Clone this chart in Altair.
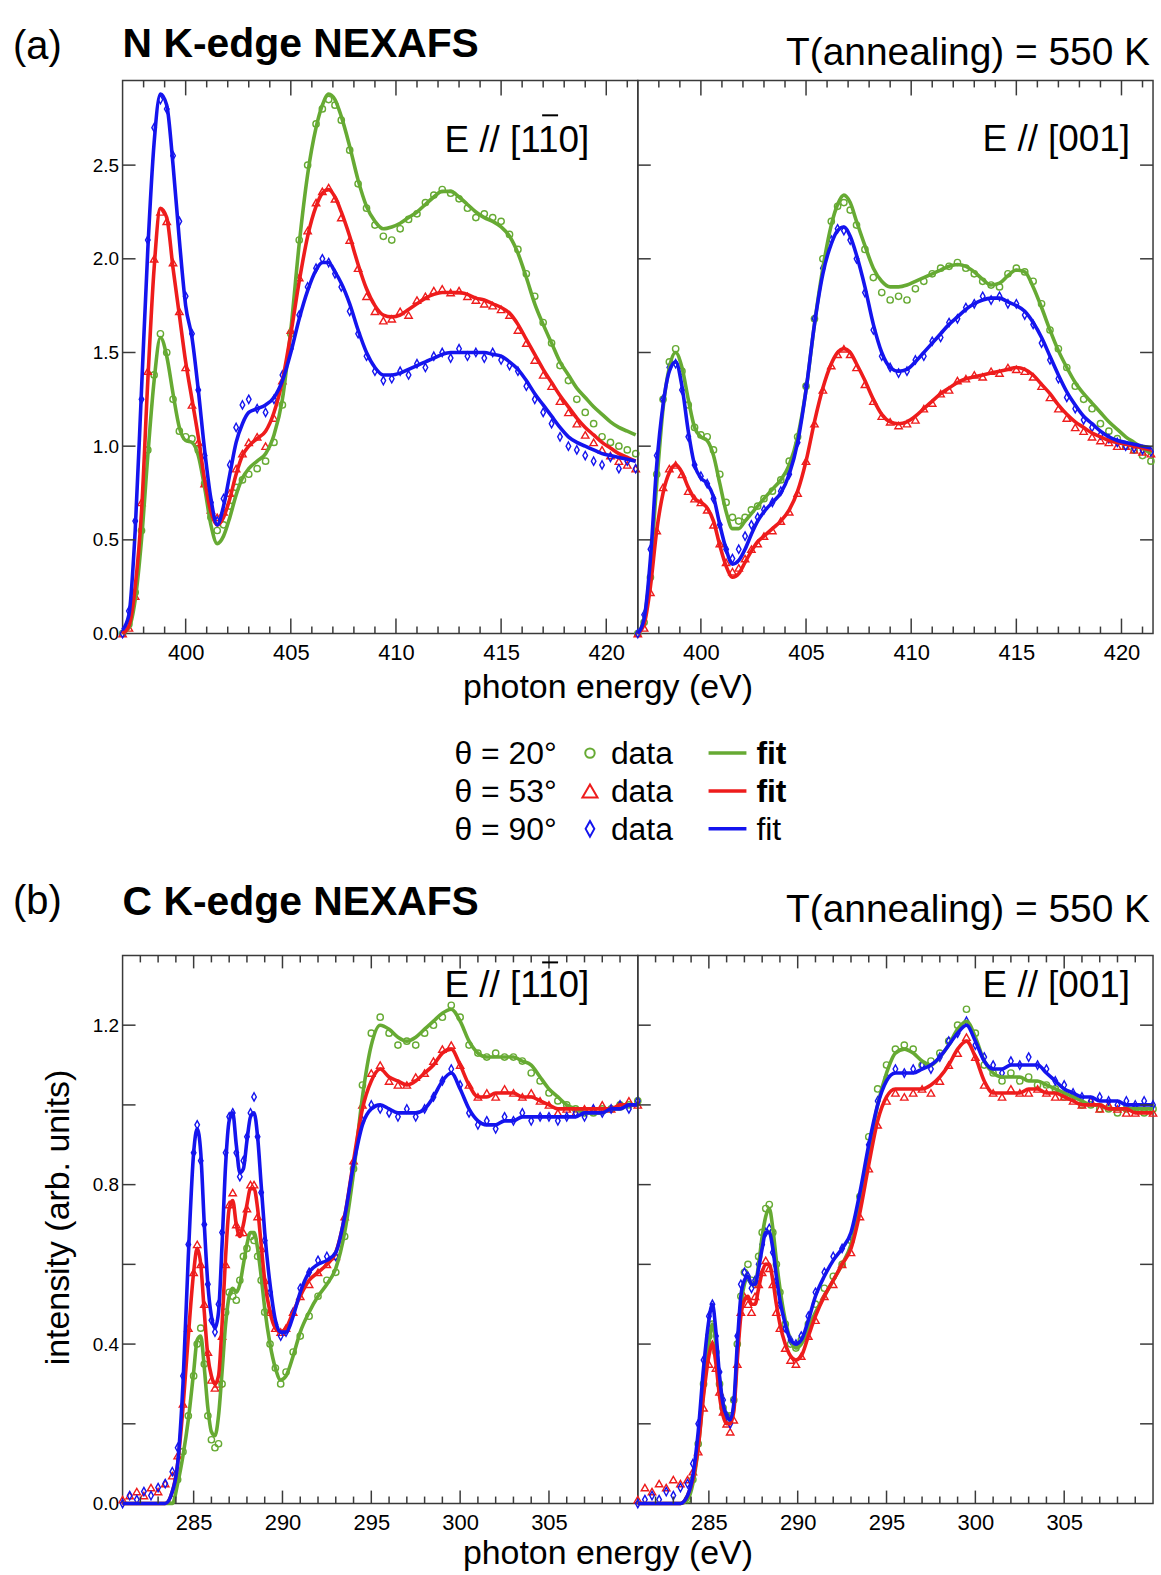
import altair as alt
import pandas as pd

FONT = "Liberation Sans"
FRAME = "#3a3a3a"
SERIES = ["20", "53", "90"]
COLORS = ["#66aa33", "#ee1c1c", "#1414ee"]
DIAMOND = "M0,-1L0.55,0L0,1L-0.55,0Z"
SHAPES = ["circle", "triangle-up", DIAMOND]

# ---------------- N K-edge energy grid ----------------
E_N = [397.0, 397.3, 397.6, 397.9, 398.2, 398.5, 398.8, 399.1, 399.4, 399.7,
       400.0, 400.3, 400.6, 400.9, 401.2, 401.5, 401.8, 402.1, 402.4, 402.7,
       403.0, 403.4, 403.8, 404.2, 404.6, 405.0, 405.4, 405.8, 406.2, 406.5,
       406.8, 407.1, 407.4, 407.8, 408.2, 408.6, 409.0, 409.4, 409.8, 410.2,
       410.6, 411.0, 411.4, 411.8, 412.2, 412.6, 413.0, 413.4, 413.8, 414.2,
       414.6, 415.0, 415.4, 415.8, 416.2, 416.6, 417.0, 417.4, 417.8, 418.2,
       418.6, 419.0, 419.4, 419.8, 420.2, 420.6, 421.0, 421.4]

# N K-edge, E // [1-10]
na_fit_20 = [0.00, 0.03, 0.18, 0.50, 0.95, 1.35, 1.58, 1.48, 1.28, 1.10,
             1.03, 1.02, 0.95, 0.78, 0.58, 0.48, 0.52, 0.62, 0.74, 0.83,
             0.88, 0.92, 0.96, 1.06, 1.25, 1.62, 2.08, 2.45, 2.70, 2.82,
             2.88, 2.85, 2.76, 2.60, 2.42, 2.28, 2.20, 2.16, 2.17, 2.19,
             2.22, 2.25, 2.29, 2.33, 2.36, 2.36, 2.33, 2.29, 2.25, 2.22,
             2.20, 2.17, 2.12, 2.03, 1.90, 1.76, 1.65, 1.55, 1.45, 1.38,
             1.31, 1.26, 1.21, 1.17, 1.13, 1.10, 1.08, 1.06]
na_dat_20 = [0.00, 0.05, 0.22, 0.55, 0.98, 1.38, 1.60, 1.50, 1.25, 1.08,
             1.05, 1.04, 0.98, 0.80, 0.62, 0.55, 0.58, 0.68, 0.78, 0.82,
             0.85, 0.88, 0.92, 1.02, 1.22, 1.60, 2.10, 2.50, 2.72, 2.80,
             2.85, 2.82, 2.74, 2.58, 2.40, 2.27, 2.18, 2.12, 2.10, 2.16,
             2.21, 2.24, 2.30, 2.34, 2.37, 2.35, 2.32, 2.27, 2.22, 2.24,
             2.22, 2.20, 2.13, 2.05, 1.92, 1.80, 1.66, 1.55, 1.43, 1.35,
             1.25, 1.18, 1.12, 1.05, 1.02, 1.00, 0.98, 0.96]
na_fit_53 = [0.00, 0.04, 0.25, 0.65, 1.35, 1.95, 2.27, 2.22, 1.95, 1.70,
             1.45, 1.25, 1.05, 0.82, 0.65, 0.58, 0.62, 0.72, 0.85, 0.95,
             1.00, 1.04, 1.08, 1.18, 1.35, 1.60, 1.88, 2.12, 2.28, 2.35,
             2.37, 2.33, 2.25, 2.12, 1.97, 1.84, 1.75, 1.70, 1.69, 1.70,
             1.73, 1.76, 1.79, 1.81, 1.82, 1.82, 1.82, 1.81, 1.79, 1.78,
             1.76, 1.74, 1.71, 1.65, 1.57, 1.49, 1.41, 1.34, 1.27, 1.21,
             1.15, 1.10, 1.06, 1.02, 0.99, 0.96, 0.94, 0.92]
na_dat_53 = [0.00, 0.03, 0.20, 0.70, 1.40, 2.00, 2.25, 2.20, 1.98, 1.72,
             1.42, 1.22, 1.02, 0.80, 0.66, 0.62, 0.65, 0.75, 0.88, 0.96,
             1.02, 1.05, 1.00, 1.15, 1.35, 1.62, 1.90, 2.15, 2.30, 2.36,
             2.38, 2.32, 2.22, 2.10, 1.95, 1.80, 1.72, 1.67, 1.68, 1.72,
             1.70, 1.78, 1.80, 1.83, 1.84, 1.82, 1.83, 1.80, 1.78, 1.76,
             1.75, 1.73, 1.70, 1.62, 1.55, 1.46, 1.38, 1.32, 1.24, 1.18,
             1.12, 1.06, 1.02, 0.98, 0.95, 0.92, 0.90, 0.88]
na_fit_90 = [0.02, 0.10, 0.55, 1.30, 2.05, 2.62, 2.88, 2.82, 2.50, 2.10,
             1.75, 1.58, 1.30, 0.98, 0.72, 0.58, 0.68, 0.85, 1.02, 1.12,
             1.18, 1.20, 1.22, 1.26, 1.35, 1.50, 1.68, 1.83, 1.94, 1.98,
             1.98, 1.93, 1.87, 1.76, 1.62, 1.50, 1.42, 1.38, 1.38, 1.39,
             1.41, 1.43, 1.45, 1.47, 1.49, 1.50, 1.50, 1.50, 1.50, 1.50,
             1.49, 1.48, 1.45, 1.41, 1.35, 1.28, 1.22, 1.16, 1.10, 1.05,
             1.02, 1.00, 0.98, 0.96, 0.95, 0.94, 0.93, 0.92]
na_dat_90 = [0.00, 0.12, 0.60, 1.25, 2.10, 2.70, 2.85, 2.80, 2.55, 2.20,
             1.80, 1.60, 1.30, 0.95, 0.70, 0.60, 0.72, 0.90, 1.10, 1.22,
             1.25, 1.20, 1.18, 1.25, 1.38, 1.52, 1.70, 1.85, 1.95, 2.00,
             1.98, 1.92, 1.85, 1.72, 1.60, 1.48, 1.40, 1.35, 1.36, 1.40,
             1.38, 1.44, 1.42, 1.48, 1.50, 1.47, 1.52, 1.48, 1.50, 1.47,
             1.50, 1.46, 1.43, 1.40, 1.32, 1.25, 1.18, 1.12, 1.05, 1.00,
             0.98, 0.95, 0.92, 0.90, 0.94, 0.88, 0.92, 0.88]

# N K-edge, E // [001]
nb_fit_20 = [0.00, 0.08, 0.35, 0.80, 1.20, 1.42, 1.50, 1.42, 1.25, 1.10,
             1.05, 1.03, 0.95, 0.80, 0.65, 0.56, 0.56, 0.60, 0.64, 0.68,
             0.72, 0.77, 0.82, 0.90, 1.05, 1.30, 1.65, 1.95, 2.18, 2.29,
             2.34, 2.30, 2.20, 2.07, 1.95, 1.88, 1.85, 1.85, 1.86, 1.88,
             1.90, 1.92, 1.94, 1.96, 1.97, 1.96, 1.93, 1.89, 1.86, 1.87,
             1.91, 1.94, 1.93, 1.85, 1.74, 1.62, 1.51, 1.42, 1.34, 1.28,
             1.23, 1.18, 1.13, 1.09, 1.05, 1.02, 0.99, 0.96]
nb_dat_20 = [0.00, 0.06, 0.30, 0.85, 1.25, 1.45, 1.52, 1.40, 1.22, 1.10,
             1.06, 1.05, 0.98, 0.85, 0.70, 0.62, 0.60, 0.62, 0.66, 0.68,
             0.72, 0.76, 0.82, 0.92, 1.05, 1.32, 1.68, 2.00, 2.20, 2.28,
             2.30, 2.26, 2.18, 2.05, 1.90, 1.82, 1.78, 1.80, 1.78, 1.84,
             1.88, 1.92, 1.95, 1.96, 1.98, 1.95, 1.92, 1.88, 1.86, 1.85,
             1.92, 1.95, 1.93, 1.88, 1.76, 1.62, 1.52, 1.42, 1.32, 1.25,
             1.20, 1.12, 1.08, 1.04, 1.00, 0.98, 0.95, 0.92]
nb_fit_53 = [0.00, 0.05, 0.25, 0.55, 0.75, 0.86, 0.90, 0.86, 0.78, 0.72,
             0.70, 0.67, 0.60, 0.47, 0.36, 0.30, 0.32, 0.38, 0.44, 0.49,
             0.52, 0.56, 0.60, 0.66, 0.76, 0.92, 1.13, 1.31, 1.44, 1.50,
             1.52, 1.50, 1.44, 1.35, 1.25, 1.17, 1.13, 1.12, 1.13, 1.16,
             1.20, 1.24, 1.28, 1.31, 1.34, 1.36, 1.37, 1.38, 1.39, 1.40,
             1.41, 1.42, 1.41, 1.38, 1.33, 1.28, 1.22, 1.17, 1.13, 1.10,
             1.07, 1.05, 1.03, 1.02, 1.01, 1.00, 0.99, 0.98]
nb_dat_53 = [0.00, 0.03, 0.22, 0.55, 0.78, 0.88, 0.90, 0.85, 0.76, 0.72,
             0.70, 0.66, 0.58, 0.48, 0.38, 0.33, 0.35, 0.40, 0.45, 0.48,
             0.52, 0.55, 0.60, 0.65, 0.75, 0.92, 1.12, 1.30, 1.43, 1.49,
             1.52, 1.49, 1.42, 1.33, 1.24, 1.16, 1.13, 1.11, 1.12, 1.14,
             1.20, 1.23, 1.28, 1.30, 1.35, 1.36, 1.38, 1.37, 1.40, 1.39,
             1.42, 1.41, 1.40, 1.37, 1.32, 1.26, 1.20, 1.15, 1.10, 1.08,
             1.05, 1.03, 1.02, 1.00, 1.00, 0.98, 0.97, 0.96]
nb_fit_90 = [0.00, 0.08, 0.40, 0.90, 1.22, 1.40, 1.45, 1.32, 1.08, 0.90,
             0.83, 0.80, 0.73, 0.58, 0.45, 0.37, 0.39, 0.45, 0.53, 0.60,
             0.65, 0.70, 0.75, 0.85, 1.02, 1.30, 1.65, 1.92, 2.08, 2.15,
             2.17, 2.12, 2.02, 1.85, 1.65, 1.50, 1.42, 1.40, 1.41, 1.45,
             1.50, 1.55, 1.60, 1.65, 1.69, 1.73, 1.76, 1.78, 1.79, 1.79,
             1.77, 1.75, 1.72, 1.66, 1.58, 1.48, 1.38, 1.29, 1.22, 1.16,
             1.12, 1.08, 1.05, 1.03, 1.02, 1.01, 1.00, 0.99]
nb_dat_90 = [0.00, 0.10, 0.45, 0.95, 1.25, 1.42, 1.44, 1.30, 1.05, 0.90,
             0.84, 0.80, 0.72, 0.58, 0.45, 0.40, 0.45, 0.52, 0.58, 0.62,
             0.66, 0.70, 0.76, 0.85, 1.02, 1.32, 1.68, 1.95, 2.10, 2.16,
             2.15, 2.10, 2.00, 1.82, 1.62, 1.48, 1.42, 1.39, 1.40, 1.46,
             1.48, 1.56, 1.58, 1.66, 1.68, 1.74, 1.76, 1.80, 1.78, 1.80,
             1.76, 1.76, 1.70, 1.65, 1.55, 1.46, 1.36, 1.26, 1.20, 1.14,
             1.10, 1.06, 1.04, 1.02, 1.00, 0.99, 0.98, 0.97]

# ---------------- C K-edge energy grid ----------------
E_C = [281.0, 281.4, 281.8, 282.2, 282.6, 283.0, 283.4, 283.8, 284.1, 284.4,
       284.7, 285.0, 285.2, 285.4, 285.6, 285.8, 286.0, 286.2, 286.4, 286.6,
       286.8, 287.0, 287.2, 287.4, 287.6, 287.8, 288.0, 288.2, 288.4, 288.6,
       288.8, 289.0, 289.3, 289.6, 289.9, 290.2, 290.6, 291.0, 291.5, 292.0,
       292.5, 293.0, 293.5, 294.0, 294.5, 295.0, 295.5, 296.0, 296.5, 297.0,
       297.5, 298.0, 298.5, 299.0, 299.5, 300.0, 300.5, 301.0, 301.5, 302.0,
       302.5, 303.0, 303.5, 304.0, 304.5, 305.0, 305.5, 306.0, 306.5, 307.0,
       307.5, 308.0, 308.5, 309.0, 309.5, 310.0]

# C K-edge, E // [1-10]
ca_fit_20 = [0.00, 0.00, 0.00, 0.00, 0.00, 0.00, 0.00, 0.00, 0.05, 0.12,
             0.21, 0.33, 0.41, 0.42, 0.34, 0.24, 0.18, 0.17, 0.22, 0.33,
             0.45, 0.52, 0.54, 0.53, 0.55, 0.60, 0.65, 0.68, 0.68, 0.64,
             0.57, 0.49, 0.40, 0.34, 0.31, 0.32, 0.37, 0.43, 0.48, 0.52,
             0.55, 0.59, 0.68, 0.83, 1.02, 1.15, 1.20, 1.19, 1.17, 1.16,
             1.17, 1.19, 1.21, 1.23, 1.24, 1.21, 1.16, 1.13, 1.12, 1.12,
             1.12, 1.12, 1.11, 1.10, 1.07, 1.04, 1.02, 1.00, 0.99, 0.98,
             0.98, 0.98, 0.99, 0.99, 1.00, 1.00]
ca_dat_20 = [None, None, None, None, None, None, None, 0.01, 0.06, 0.13,
             0.22, 0.32, 0.40, 0.44, 0.35, 0.22, 0.16, 0.14, 0.15, 0.30,
             0.48, 0.53, 0.52, 0.51, 0.56, 0.62, 0.64, 0.67, 0.66, 0.62,
             0.56, 0.48, 0.40, 0.34, 0.30, 0.33, 0.38, 0.42, 0.47, 0.52,
             0.56, 0.58, 0.67, 0.84, 1.05, 1.18, 1.22, 1.18, 1.15, 1.16,
             1.15, 1.18, 1.20, 1.22, 1.25, 1.22, 1.15, 1.13, 1.12, 1.13,
             1.12, 1.12, 1.11, 1.08, 1.06, 1.03, 1.01, 1.00, 0.99, 0.98,
             0.98, 0.99, 0.99, 1.00, 1.00, 1.01]
ca_fit_53 = [0.00, 0.00, 0.00, 0.00, 0.00, 0.00, 0.00, 0.03, 0.10, 0.24,
             0.42, 0.58, 0.64, 0.60, 0.48, 0.37, 0.32, 0.30, 0.32, 0.45,
             0.62, 0.74, 0.76, 0.70, 0.67, 0.70, 0.75, 0.79, 0.79, 0.74,
             0.65, 0.56, 0.48, 0.44, 0.43, 0.44, 0.48, 0.52, 0.56, 0.58,
             0.60, 0.63, 0.72, 0.86, 0.99, 1.06, 1.09, 1.07, 1.06, 1.05,
             1.06, 1.08, 1.10, 1.13, 1.14, 1.10, 1.05, 1.02, 1.02, 1.03,
             1.03, 1.03, 1.02, 1.02, 1.01, 1.00, 0.99, 0.99, 0.99, 0.99,
             0.99, 0.99, 0.99, 1.00, 1.00, 1.00]
ca_dat_53 = [0.01, 0.02, 0.03, 0.02, 0.04, 0.03, 0.05, 0.07, 0.12, 0.25,
             0.44, 0.58, 0.65, 0.60, 0.50, 0.38, 0.31, 0.29, 0.30, 0.42,
             0.60, 0.75, 0.78, 0.70, 0.68, 0.68, 0.74, 0.80, 0.80, 0.72,
             0.64, 0.56, 0.48, 0.44, 0.43, 0.44, 0.48, 0.52, 0.55, 0.58,
             0.60, 0.62, 0.72, 0.86, 1.00, 1.08, 1.10, 1.06, 1.05, 1.05,
             1.07, 1.08, 1.11, 1.14, 1.15, 1.10, 1.05, 1.02, 1.03, 1.02,
             1.04, 1.03, 1.02, 1.03, 1.01, 1.00, 0.98, 0.99, 0.98, 0.99,
             0.99, 1.00, 0.99, 1.00, 1.01, 1.00]
ca_fit_90 = [0.00, 0.00, 0.00, 0.00, 0.00, 0.00, 0.00, 0.03, 0.10, 0.30,
             0.62, 0.88, 0.94, 0.88, 0.70, 0.55, 0.47, 0.44, 0.48, 0.65,
             0.85, 0.96, 0.98, 0.90, 0.83, 0.84, 0.91, 0.97, 0.98, 0.92,
             0.80, 0.68, 0.55, 0.46, 0.43, 0.43, 0.47, 0.53, 0.58, 0.60,
             0.61, 0.63, 0.72, 0.85, 0.95, 0.99, 1.00, 0.99, 0.98, 0.98,
             0.98, 0.99, 1.02, 1.06, 1.08, 1.04, 0.99, 0.96, 0.95, 0.95,
             0.96, 0.96, 0.97, 0.97, 0.97, 0.97, 0.97, 0.97, 0.97, 0.98,
             0.98, 0.98, 0.99, 0.99, 1.00, 1.00]
ca_dat_90 = [0.00, 0.02, 0.01, 0.03, 0.02, 0.04, 0.05, 0.08, 0.14, 0.32,
             0.65, 0.88, 0.95, 0.86, 0.70, 0.55, 0.46, 0.43, 0.50, 0.68,
             0.88, 0.97, 0.98, 0.88, 0.82, 0.86, 0.92, 0.98, 1.02, 0.92,
             0.78, 0.66, 0.53, 0.45, 0.42, 0.43, 0.48, 0.54, 0.58, 0.61,
             0.62, 0.62, 0.71, 0.85, 0.96, 1.00, 0.99, 0.98, 0.97, 0.99,
             0.97, 0.99, 1.02, 1.06, 1.09, 1.05, 0.98, 0.95, 0.96, 0.94,
             0.97, 0.96, 0.98, 0.96, 0.97, 0.97, 0.96, 0.97, 0.98, 0.97,
             0.99, 0.98, 0.99, 1.00, 0.99, 1.01]

# C K-edge, E // [001]
cb_fit_20 = [0.00, 0.00, 0.00, 0.00, 0.00, 0.00, 0.00, 0.01, 0.05, 0.14,
             0.28, 0.40, 0.45, 0.40, 0.31, 0.25, 0.22, 0.21, 0.24, 0.38,
             0.50, 0.55, 0.57, 0.55, 0.55, 0.60, 0.67, 0.72, 0.74, 0.69,
             0.61, 0.54, 0.46, 0.41, 0.39, 0.40, 0.44, 0.48, 0.52, 0.56,
             0.60, 0.65, 0.75, 0.88, 1.00, 1.08, 1.13, 1.14, 1.13, 1.11,
             1.10, 1.12, 1.15, 1.19, 1.21, 1.17, 1.11, 1.08, 1.07, 1.07,
             1.07, 1.06, 1.06, 1.05, 1.04, 1.03, 1.02, 1.01, 1.00, 1.00,
             0.99, 0.99, 0.99, 0.99, 0.99, 0.99]
cb_dat_20 = [None, None, None, None, None, None, None, 0.01, 0.06, 0.15,
             0.30, 0.42, 0.45, 0.38, 0.30, 0.24, 0.22, 0.22, 0.26, 0.40,
             0.52, 0.58, 0.60, 0.56, 0.55, 0.62, 0.68, 0.74, 0.75, 0.68,
             0.60, 0.53, 0.45, 0.40, 0.39, 0.41, 0.45, 0.50, 0.54, 0.57,
             0.60, 0.66, 0.77, 0.92, 1.04, 1.10, 1.14, 1.15, 1.14, 1.10,
             1.11, 1.13, 1.16, 1.20, 1.24, 1.18, 1.10, 1.08, 1.06, 1.08,
             1.06, 1.07, 1.05, 1.05, 1.04, 1.02, 1.02, 1.00, 1.00, 0.99,
             0.99, 0.98, 0.99, 0.99, 0.98, 0.99]
cb_fit_53 = [0.00, 0.00, 0.00, 0.00, 0.00, 0.00, 0.00, 0.02, 0.06, 0.14,
             0.27, 0.37, 0.40, 0.35, 0.27, 0.22, 0.20, 0.20, 0.23, 0.36,
             0.47, 0.51, 0.52, 0.50, 0.50, 0.54, 0.58, 0.60, 0.60, 0.56,
             0.50, 0.45, 0.40, 0.37, 0.36, 0.37, 0.42, 0.47, 0.52, 0.56,
             0.60, 0.64, 0.73, 0.85, 0.96, 1.02, 1.04, 1.04, 1.04, 1.04,
             1.05, 1.07, 1.10, 1.14, 1.16, 1.12, 1.06, 1.03, 1.03, 1.03,
             1.03, 1.04, 1.04, 1.03, 1.03, 1.02, 1.01, 1.00, 1.00, 1.00,
             0.99, 0.99, 0.99, 0.98, 0.98, 0.98]
cb_dat_53 = [0.01, 0.04, 0.03, 0.05, 0.04, 0.06, 0.05, 0.06, 0.08, 0.13,
             0.24, 0.35, 0.40, 0.34, 0.28, 0.23, 0.20, 0.18, 0.21, 0.35,
             0.48, 0.52, 0.50, 0.48, 0.52, 0.55, 0.58, 0.61, 0.59, 0.55,
             0.48, 0.44, 0.39, 0.36, 0.35, 0.37, 0.42, 0.46, 0.52, 0.55,
             0.60, 0.63, 0.72, 0.84, 0.95, 1.01, 1.03, 1.02, 1.03, 1.04,
             1.03, 1.06, 1.10, 1.13, 1.17, 1.12, 1.05, 1.03, 1.02, 1.04,
             1.03, 1.03, 1.04, 1.03, 1.02, 1.02, 1.01, 1.00, 1.01, 0.99,
             1.00, 0.99, 0.98, 0.98, 0.99, 0.98]
cb_fit_90 = [0.00, 0.00, 0.00, 0.00, 0.00, 0.00, 0.00, 0.02, 0.07, 0.18,
             0.34, 0.46, 0.50, 0.43, 0.32, 0.25, 0.22, 0.21, 0.25, 0.40,
             0.52, 0.56, 0.57, 0.55, 0.55, 0.59, 0.64, 0.68, 0.68, 0.64,
             0.57, 0.51, 0.45, 0.41, 0.40, 0.41, 0.46, 0.52, 0.57, 0.61,
             0.64, 0.68, 0.78, 0.90, 1.00, 1.06, 1.08, 1.08, 1.08, 1.09,
             1.10, 1.12, 1.15, 1.18, 1.20, 1.16, 1.11, 1.09, 1.09, 1.10,
             1.10, 1.10, 1.10, 1.08, 1.06, 1.04, 1.03, 1.02, 1.02, 1.01,
             1.01, 1.01, 1.00, 1.00, 1.00, 1.00]
cb_dat_90 = [0.00, 0.01, 0.02, 0.01, 0.03, 0.02, 0.04, 0.05, 0.10, 0.20,
             0.36, 0.47, 0.50, 0.42, 0.33, 0.26, 0.22, 0.20, 0.26, 0.42,
             0.55, 0.58, 0.57, 0.54, 0.56, 0.60, 0.65, 0.68, 0.69, 0.63,
             0.56, 0.50, 0.44, 0.41, 0.40, 0.42, 0.47, 0.53, 0.58, 0.62,
             0.64, 0.67, 0.77, 0.90, 1.01, 1.07, 1.09, 1.08, 1.09, 1.10,
             1.09, 1.12, 1.16, 1.18, 1.21, 1.15, 1.12, 1.10, 1.08, 1.11,
             1.10, 1.12, 1.10, 1.09, 1.06, 1.05, 1.03, 1.02, 1.01, 1.02,
             1.01, 1.00, 1.01, 1.00, 1.01, 1.00]

# ---------------- ticks / labels ----------------
N_X_DOMAIN = [397.0, 421.5]
N_Y_DOMAIN = [0.0, 2.952]
N_X_MAJOR = [400, 405, 410, 415, 420]
N_X_MINOR = [398, 399, 401, 402, 403, 404, 406, 407, 408, 409, 411, 412, 413, 414,
             416, 417, 418, 419, 421]
N_Y_TICKS = [0.5, 1.0, 1.5, 2.0, 2.5]
N_Y_LABELS = [0.0, 0.5, 1.0, 1.5, 2.0, 2.5]

C_X_DOMAIN = [281.0, 310.0]
C_Y_DOMAIN = [0.0, 1.375]
C_X_MAJOR = [285, 290, 295, 300, 305]
C_X_MINOR = [282, 283, 284, 286, 287, 288, 289, 291, 292, 293, 294, 296, 297, 298, 299,
             301, 302, 303, 304, 306, 307, 308, 309]
C_Y_TICKS = [0.2, 0.4, 0.6, 0.8, 1.0, 1.2]
C_Y_LABELS = [0.0, 0.4, 0.8, 1.2]

LEG_THETA = ["θ = 20°", "θ = 53°", "θ = 90°"]
LEG_DATA = ["data", "data", "data"]
LEG_FIT = ["fit", "fit", "fit"]
LEG_FIT_WEIGHT = ["bold", "bold", "normal"]

# layout (pixels)
W = 517
H_TOP = 555
H_BOT = 550
GAP = 323
LEG_ROW_Y = [675, 713, 751]
LEG_SYM_SIZE = [90, 230, 250]
E_FONT = 37


def long_df(E, a, b, c):
    n = len(E)
    return pd.DataFrame({"E": E * 3, "I": a + b + c,
                         "s": [SERIES[0]] * n + [SERIES[1]] * n + [SERIES[2]] * n})


def txt(s, x, y, size, weight="normal", align="left", angle=0, baseline="alphabetic"):
    return alt.Chart(pd.DataFrame({"t": [s]})).mark_text(
        font=FONT, fontSize=size, fontWeight=weight, align=align, angle=angle,
        baseline=baseline, color="black"
    ).encode(text="t:N", x=alt.value(x), y=alt.value(y))


def hrule(x1, x2, y, width=2.0, opacity=1.0, color="black"):
    return alt.Chart(pd.DataFrame({"t": [0]})).mark_rule(
        color=color, strokeWidth=width, opacity=opacity
    ).encode(x=alt.value(x1), x2=alt.value(x2), y=alt.value(y))


def sym(shape, color, size, x, y):
    return alt.Chart(pd.DataFrame({"t": [0]})).mark_point(
        shape=shape, color=color, size=size, filled=False, strokeWidth=2, opacity=1
    ).encode(x=alt.value(x), y=alt.value(y))


def legend_layers():
    out = [txt("photon energy (eV)", 487, H_TOP + 65, 34, align="center")]
    for i in range(3):
        y = LEG_ROW_Y[i]
        out.append(txt(LEG_THETA[i], 333, y + 11, 32))
        out.append(sym(SHAPES[i], COLORS[i], LEG_SYM_SIZE[i], 469, y))
        out.append(txt(LEG_DATA[i], 490, y + 11, 32))
        out.append(hrule(588, 626, y, width=3.5, color=COLORS[i]))
        out.append(txt(LEG_FIT[i], 636, y + 11, 32, weight=LEG_FIT_WEIGHT[i]))
    return out


def panel(E, fits, dats, xdom, ydom, xmaj, xmin, ytk, ylab, H, maj_len,
          left_labels, right_ticks, extras, sizes):
    xs = alt.Scale(domain=xdom, nice=False, zero=False)
    ys = alt.Scale(domain=ydom, nice=False, zero=False)
    xax = alt.Axis(values=xmaj, format="d", ticks=False, tickSize=0, domain=False,
                   grid=False, labelFont=FONT, labelFontSize=22, labelColor="black",
                   labelPadding=9, labelFlush=False, title=None)
    if left_labels:
        yax = alt.Axis(values=ylab, format=".1f", ticks=False, tickSize=0, domain=False,
                       grid=False, labelFont=FONT, labelFontSize=19, labelColor="black",
                       labelPadding=4, labelFlush=False, title=None)
    else:
        yax = None
    X = alt.X("E:Q", scale=xs, axis=xax)
    Y = alt.Y("I:Q", scale=ys, axis=yax)
    col = alt.Color("s:N", scale=alt.Scale(domain=SERIES, range=COLORS), legend=None)
    shp = alt.Shape("s:N", scale=alt.Scale(domain=SERIES, range=SHAPES), legend=None)
    siz = alt.Size("s:O", scale=alt.Scale(domain=SERIES, range=sizes), legend=None)

    pts = alt.Chart(long_df(E, *dats)).mark_point(
        filled=False, strokeWidth=1.4, opacity=1
    ).encode(x=X, y=Y, color=col, shape=shp, size=siz)
    lines = alt.Chart(long_df(E, *fits)).mark_line(
        strokeWidth=3.6, interpolate="monotone"
    ).encode(x=X, y=Y, color=col)

    def xt(vals, y1, y2):
        return alt.Chart(pd.DataFrame({"E": vals})).mark_rule(
            color=FRAME, strokeWidth=1.5
        ).encode(x=X, y=alt.value(y1), y2=alt.value(y2))

    def yt(x1, x2):
        return alt.Chart(pd.DataFrame({"I": ytk})).mark_rule(
            color=FRAME, strokeWidth=1.5
        ).encode(y=Y, x=alt.value(x1), x2=alt.value(x2))

    layers = [pts, lines,
              xt(xmaj, H, H - maj_len), xt(xmin, H, H - 7),
              xt(xmaj, 0, maj_len), xt(xmin, 0, 7),
              yt(0, 13)]
    if right_ticks:
        layers.append(yt(W, W - 13))
    layers += extras
    return alt.layer(*layers).properties(width=W, height=H)


N_SIZES = [40, 70, 72]
C_SIZES = [36, 62, 64]

tl = panel(E_N, [na_fit_20, na_fit_53, na_fit_90], [na_dat_20, na_dat_53, na_dat_90],
           N_X_DOMAIN, N_Y_DOMAIN, N_X_MAJOR, N_X_MINOR, N_Y_TICKS, N_Y_LABELS,
           H_TOP, 15, True, False,
           [hrule(-122, -121, -77, opacity=0),
            txt("(a)", -110, -22, 40),
            txt("N K-edge NEXAFS", 0, -24, 41, weight="bold"),
            txt("E // [110]", 323, 72, E_FONT),
            hrule(421, 437, 35)] + legend_layers(), N_SIZES)

tr = panel(E_N, [nb_fit_20, nb_fit_53, nb_fit_90], [nb_dat_20, nb_dat_53, nb_dat_90],
           N_X_DOMAIN, N_Y_DOMAIN, N_X_MAJOR, N_X_MINOR, N_Y_TICKS, N_Y_LABELS,
           H_TOP, 15, False, True,
           [txt("T(annealing) = 550 K", 514, -15, 39, align="right"),
            txt("E // [001]", 494, 71, E_FONT, align="right")], N_SIZES)

bl = panel(E_C, [ca_fit_20, ca_fit_53, ca_fit_90], [ca_dat_20, ca_dat_53, ca_dat_90],
           C_X_DOMAIN, C_Y_DOMAIN, C_X_MAJOR, C_X_MINOR, C_Y_TICKS, C_Y_LABELS,
           H_BOT, 13, True, False,
           [txt("(b)", -110, -42, 40),
            txt("C K-edge NEXAFS", 0, -41, 41, weight="bold"),
            txt("E // [110]", 323, 42, E_FONT),
            hrule(421, 437, 7),
            txt("photon energy (eV)", 487, 611, 34, align="center"),
            txt("intensity (arb. units)", -64, 263, 34, align="center", angle=270,
                baseline="middle")], C_SIZES)

br = panel(E_C, [cb_fit_20, cb_fit_53, cb_fit_90], [cb_dat_20, cb_dat_53, cb_dat_90],
           C_X_DOMAIN, C_Y_DOMAIN, C_X_MAJOR, C_X_MINOR, C_Y_TICKS, C_Y_LABELS,
           H_BOT, 13, False, True,
           [txt("T(annealing) = 550 K", 514, -34, 39, align="right"),
            txt("E // [001]", 494, 42, E_FONT, align="right")], C_SIZES)

chart = alt.concat(
    tl, tr, bl, br, columns=2, bounds="flush",
    spacing=alt.RowColnumber(row=GAP, column=0)
).properties(padding=0, background="white").configure_view(
    stroke=FRAME, strokeWidth=1.5
)

chart.save("out.html", embed_options={"renderer": "svg", "actions": False})
